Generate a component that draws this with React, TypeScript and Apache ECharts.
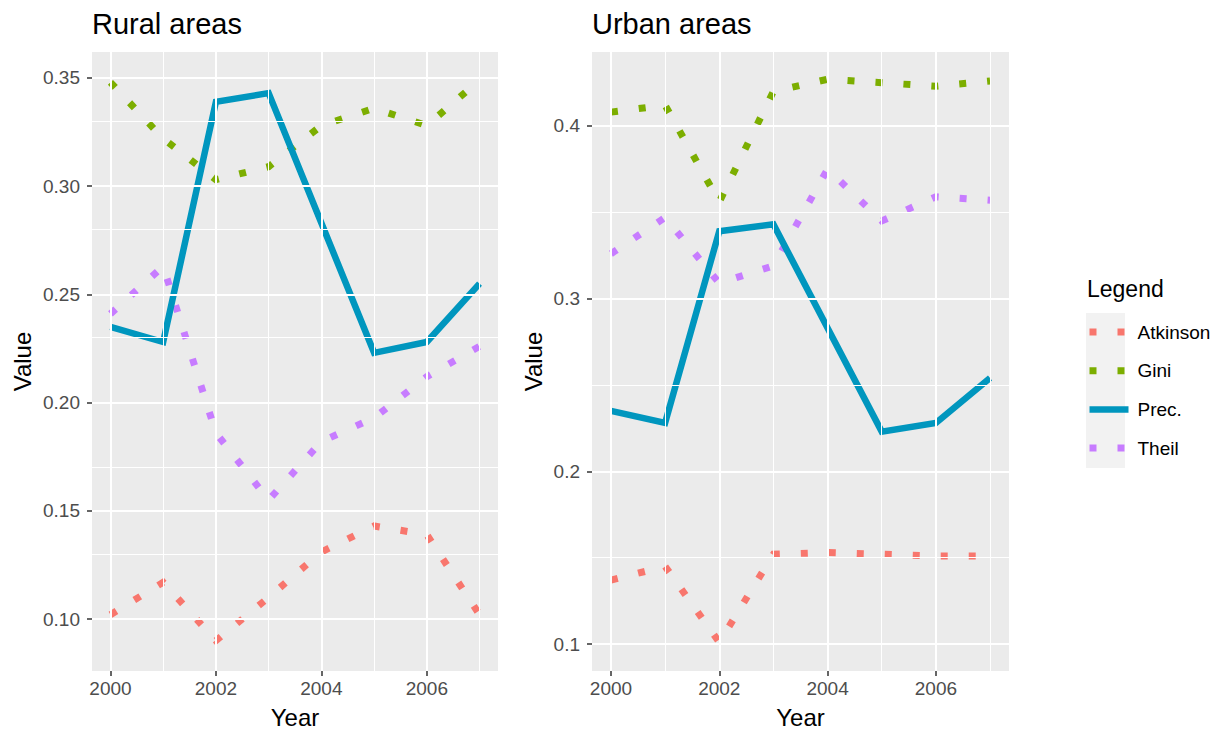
import React, { useEffect, useRef } from "react";
import * as echarts from "echarts";

const years = [2000, 2001, 2002, 2003, 2004, 2005, 2006, 2007];
const seriesNames = ["Atkinson", "Gini", "Prec.", "Theil"];

const ruralAtkinson = [0.102, 0.117, 0.09, 0.11, 0.131, 0.143, 0.139, 0.102];
const ruralGini = [0.348, 0.322, 0.303, 0.309, 0.328, 0.336, 0.328, 0.349];
const ruralPrec = [0.235, 0.228, 0.339, 0.343, 0.283, 0.223, 0.228, 0.255];
const ruralTheil = [0.241, 0.263, 0.186, 0.155, 0.182, 0.193, 0.212, 0.226];

const urbanAtkinson = [0.137, 0.145, 0.101, 0.152, 0.153, 0.152, 0.151, 0.151];
const urbanGini = [0.408, 0.412, 0.356, 0.42, 0.427, 0.425, 0.423, 0.426];
const urbanPrec = [0.235, 0.228, 0.339, 0.343, 0.283, 0.223, 0.228, 0.254];
const urbanTheil = [0.326, 0.347, 0.309, 0.319, 0.375, 0.345, 0.359, 0.357];

const xTicks = [2000, 2002, 2004, 2006];
const xMinor = [2001, 2003, 2005, 2007];
const ruralYTicks = [0.1, 0.15, 0.2, 0.25, 0.3, 0.35];
const ruralYMinor = [0.125, 0.175, 0.225, 0.275, 0.325];
const urbanYTicks = [0.1, 0.2, 0.3, 0.4];
const urbanYMinor = [0.15, 0.25, 0.35];

const panelTitles = ["Rural areas", "Urban areas"];

const FONT = '"Liberation Sans", Arial, sans-serif';
const colors = ["#F8766D", "#7CAE00", "#0096BE", "#C77CFF"];
const dotted = [7, 21];

function lineStyleFor(i: number) {
  if (seriesNames[i] === "Prec.") {
    return { color: colors[i], width: 6.5, type: "solid", cap: "butt", join: "miter" };
  }
  return { color: colors[i], width: 7, type: dotted, cap: "butt", join: "miter" };
}

export default function App() {
  const ref = useRef<HTMLDivElement>(null);
  useEffect(() => {
    if (!ref.current) return;
    const chart = echarts.init(ref.current, null, { renderer: "svg" });
    const panels = [
      [ruralAtkinson, ruralGini, ruralPrec, ruralTheil],
      [urbanAtkinson, urbanGini, urbanPrec, urbanTheil],
    ];
    const yTicks = [ruralYTicks, urbanYTicks];
    const yMinor = [ruralYMinor, urbanYMinor];
    const yRange = [
      [0.076, 0.362],
      [0.0844, 0.4428],
    ];
    const decimals = [2, 1];
    const nameGaps = [58, 47];

    const series: any[] = [];
    panels.forEach((vals, p) => {
      series.push({
        type: "line",
        name: "grid" + p,
        xAxisIndex: p,
        yAxisIndex: p,
        data: [],
        z: 1,
        silent: true,
        markLine: {
          silent: true,
          symbol: ["none", "none"],
          label: { show: false },
          animation: false,
          data: [
            ...yMinor[p].map((v) => ({ yAxis: v, lineStyle: { color: "#FFFFFF", width: 1, type: "solid" } })),
            ...xMinor.map((v) => ({ xAxis: v, lineStyle: { color: "#FFFFFF", width: 1, type: "solid" } })),
            ...yTicks[p].map((v) => ({ yAxis: v, lineStyle: { color: "#FFFFFF", width: 2, type: "solid" } })),
            ...xTicks.map((v) => ({ xAxis: v, lineStyle: { color: "#FFFFFF", width: 2, type: "solid" } })),
          ],
        },
      });
      vals.forEach((arr, i) => {
        series.push({
          type: "line",
          name: seriesNames[i],
          xAxisIndex: p,
          yAxisIndex: p,
          data: years.map((y, k) => [y, arr[k]]),
          symbol: "none",
          showSymbol: false,
          z: 3 + (seriesNames[i] === "Prec." ? 1 : 0),
          lineStyle: lineStyleFor(i),
          itemStyle: { color: colors[i] },
          emphasis: { disabled: true },
        });
      });
    });

    const option: any = {
      animation: false,
      textStyle: { fontFamily: FONT },
      title: [
        { text: panelTitles[0], left: 92, top: 9, padding: 0, textStyle: { fontSize: 29, fontWeight: "normal", color: "#000", fontFamily: FONT } },
        { text: panelTitles[1], left: 592, top: 9, padding: 0, textStyle: { fontSize: 29, fontWeight: "normal", color: "#000", fontFamily: FONT } },
        { text: "Legend", left: 1087, top: 277, padding: 0, textStyle: { fontSize: 23, fontWeight: "normal", color: "#000", fontFamily: FONT } },
      ],
      graphic: [
        { type: "rect", left: 1086, top: 313, shape: { width: 39, height: 155 }, style: { fill: "#F2F2F2" }, z: 0, silent: true },
      ],
      legend: {
        orient: "vertical",
        left: 1086,
        top: 322,
        padding: 0,
        itemWidth: 39,
        itemHeight: 20,
        itemGap: 18.7,
        selectedMode: false,
        itemStyle: { opacity: 0 },
        textStyle: { fontSize: 19, color: "#000", fontFamily: FONT, lineHeight: 20, padding: [0, 0, 0, 4] },
        data: seriesNames.map((n, i) => ({ name: n, lineStyle: lineStyleFor(i) })),
      },
      grid: [
        { left: 92, top: 52, width: 406, height: 619, show: true, backgroundColor: "#EBEBEB", borderWidth: 0, containLabel: false, outerBoundsMode: "none" },
        { left: 592, top: 52, width: 417, height: 619, show: true, backgroundColor: "#EBEBEB", borderWidth: 0, containLabel: false, outerBoundsMode: "none" },
      ],
      xAxis: [0, 1].map((p) => ({
        type: "value",
        gridIndex: p,
        min: 1999.65,
        max: 2007.35,
        name: "Year",
        nameLocation: "middle",
        nameGap: 34,
        nameTextStyle: { fontSize: 24, color: "#000", fontFamily: FONT },
        axisLine: { show: false },
        axisTick: { show: true, length: 5, lineStyle: { color: "#333333", width: 1.5 }, customValues: xTicks },
        axisLabel: { fontSize: 19, color: "#4D4D4D", margin: 8, fontFamily: FONT, customValues: xTicks, formatter: (v: number) => String(v) },
        splitLine: { show: false },
        minorSplitLine: { show: false },
      })),
      yAxis: [0, 1].map((p) => ({
        type: "value",
        gridIndex: p,
        min: yRange[p][0],
        max: yRange[p][1],
        name: "Value",
        nameLocation: "middle",
        nameRotate: 90,
        nameGap: nameGaps[p],
        nameTextStyle: { fontSize: 24, color: "#000", fontFamily: FONT },
        axisLine: { show: false },
        axisTick: { show: true, length: 5, lineStyle: { color: "#333333", width: 1.5 }, customValues: yTicks[p] },
        axisLabel: { fontSize: 19, color: "#4D4D4D", margin: 12, fontFamily: FONT, customValues: yTicks[p], formatter: (v: number) => v.toFixed(decimals[p]) },
        splitLine: { show: false },
        minorSplitLine: { show: false },
      })),
      series,
    };
    chart.setOption(option);
    return () => chart.dispose();
  }, []);
  return <div ref={ref} style={{ position: "fixed", left: 0, top: 0, width: 1220, height: 729, background: "#fff" }} />;
}
